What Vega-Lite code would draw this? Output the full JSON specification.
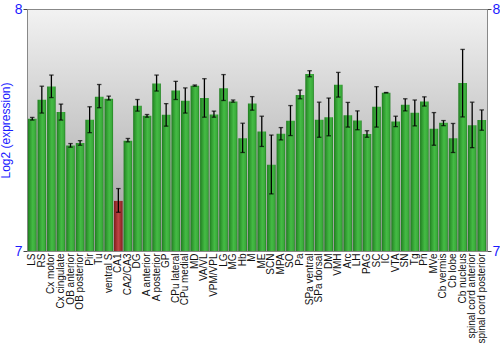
{
  "$schema": "https://vega.github.io/schema/vega-lite/v6.json",
  "width": 460,
  "height": 242,
  "autosize": {"type": "none"},
  "padding": {"left": 27, "top": 9, "right": 13, "bottom": 99},
  "config": {
    "font": "Liberation Sans",
    "view": {
      "stroke": "#888888",
      "strokeWidth": 1,
      "fill": {"gradient": "linear", "x1": 0, "y1": 0, "x2": 0, "y2": 1,
        "stops": [{"offset": 0, "color": "#f2f2f2"}, {"offset": 0.5, "color": "#c8c8c8"}, {"offset": 1, "color": "#9c9c9c"}]}
    }
  },
  "data": {"values": [
    {"region": "LS", "v": 7.546, "lo": 7.541, "hi": 7.552},
    {"region": "RS", "v": 7.625, "lo": 7.570, "hi": 7.681},
    {"region": "Cx motor", "v": 7.680, "lo": 7.634, "hi": 7.727},
    {"region": "Cx cingulate", "v": 7.574, "lo": 7.541, "hi": 7.607},
    {"region": "OB anterior", "v": 7.436, "lo": 7.429, "hi": 7.444},
    {"region": "OB posterior", "v": 7.446, "lo": 7.437, "hi": 7.456},
    {"region": "Pir", "v": 7.542, "lo": 7.489, "hi": 7.596},
    {"region": "Tu", "v": 7.637, "lo": 7.592, "hi": 7.688},
    {"region": "ventral S", "v": 7.629, "lo": 7.624, "hi": 7.640},
    {"region": "CA1", "v": 7.207, "lo": 7.160, "hi": 7.258},
    {"region": "CA2/CA3", "v": 7.456, "lo": 7.451, "hi": 7.465},
    {"region": "DG", "v": 7.600, "lo": 7.578, "hi": 7.626},
    {"region": "A anterior", "v": 7.559, "lo": 7.553, "hi": 7.564},
    {"region": "A posterior", "v": 7.692, "lo": 7.661, "hi": 7.727},
    {"region": "GP", "v": 7.563, "lo": 7.516, "hi": 7.609},
    {"region": "CPu lateral", "v": 7.663, "lo": 7.626, "hi": 7.701},
    {"region": "CPu medial", "v": 7.621, "lo": 7.570, "hi": 7.674},
    {"region": "MD", "v": 7.683, "lo": 7.681, "hi": 7.686},
    {"region": "VA/VL", "v": 7.632, "lo": 7.553, "hi": 7.712},
    {"region": "VPM/VPL", "v": 7.564, "lo": 7.553, "hi": 7.578},
    {"region": "LG", "v": 7.673, "lo": 7.622, "hi": 7.729},
    {"region": "MG", "v": 7.618, "lo": 7.615, "hi": 7.624},
    {"region": "Hb", "v": 7.466, "lo": 7.407, "hi": 7.528},
    {"region": "M", "v": 7.609, "lo": 7.582, "hi": 7.638},
    {"region": "ME", "v": 7.494, "lo": 7.432, "hi": 7.557},
    {"region": "SCN", "v": 7.356, "lo": 7.236, "hi": 7.479},
    {"region": "MPA", "v": 7.484, "lo": 7.459, "hi": 7.510},
    {"region": "SO", "v": 7.538, "lo": 7.477, "hi": 7.601},
    {"region": "Pa", "v": 7.645, "lo": 7.629, "hi": 7.665},
    {"region": "SPa ventral", "v": 7.731, "lo": 7.720, "hi": 7.745},
    {"region": "SPa dorsal", "v": 7.542, "lo": 7.470, "hi": 7.615},
    {"region": "DM", "v": 7.553, "lo": 7.476, "hi": 7.632},
    {"region": "VMH", "v": 7.687, "lo": 7.636, "hi": 7.738},
    {"region": "Arc", "v": 7.561, "lo": 7.512, "hi": 7.614},
    {"region": "LH", "v": 7.539, "lo": 7.501, "hi": 7.579},
    {"region": "PAG", "v": 7.483, "lo": 7.470, "hi": 7.497},
    {"region": "SC", "v": 7.596, "lo": 7.512, "hi": 7.679},
    {"region": "IC", "v": 7.654, "lo": 7.653, "hi": 7.655},
    {"region": "VTA", "v": 7.535, "lo": 7.514, "hi": 7.557},
    {"region": "SN", "v": 7.604, "lo": 7.579, "hi": 7.629},
    {"region": "Tg", "v": 7.571, "lo": 7.517, "hi": 7.624},
    {"region": "Pn", "v": 7.618, "lo": 7.599, "hi": 7.637},
    {"region": "MVe", "v": 7.505, "lo": 7.437, "hi": 7.572},
    {"region": "Cb vermis", "v": 7.530, "lo": 7.518, "hi": 7.539},
    {"region": "Cb lobe", "v": 7.466, "lo": 7.407, "hi": 7.527},
    {"region": "Cb nucleus", "v": 7.694, "lo": 7.554, "hi": 7.833},
    {"region": "spinal cord anterior", "v": 7.520, "lo": 7.427, "hi": 7.615},
    {"region": "spinal cord posterior", "v": 7.541, "lo": 7.499, "hi": 7.583}
  ]},
  "encoding": {
    "x": {
      "field": "region", "type": "nominal", "sort": null,
      "scale": {"paddingInner": 0.1, "paddingOuter": 0.1},
      "axis": {"title": null, "labelAngle": -90, "labelFontSize": 10, "labelColor": "#111111",
        "ticks": false, "domain": false, "labelPadding": 2, "labelFont": "Liberation Sans"}
    }
  },
  "layer": [
    {
      "mark": {"type": "bar"},
      "encoding": {
        "y": {"field": "v", "type": "quantitative", "scale": {"domain": [7, 8], "zero": false, "nice": false},
          "axis": {"orient": "left", "values": [7, 8], "format": "d", "title": "Log2 (expression)", "titleColor": "#1a1aff",
            "titleFontSize": 12, "titleFontWeight": "normal", "titleFont": "Liberation Sans", "titlePadding": 2,
            "labelColor": "#1a1aff", "labelFontSize": 14, "labelFont": "Liberation Sans", "grid": false,
            "domainColor": "#888888", "tickColor": "#444444", "tickSize": 4, "labelPadding": 1}},
        "y2": {"datum": 7},
        "color": {
          "condition": {"test": "datum.region === 'CA1'",
            "value": {"gradient": "linear", "x1": 0, "y1": 0, "x2": 1, "y2": 0,
              "stops": [{"offset": 0, "color": "#7d1c1c"}, {"offset": 0.5, "color": "#c04545"}, {"offset": 1, "color": "#852020"}]}},
          "value": {"gradient": "linear", "x1": 0, "y1": 0, "x2": 1, "y2": 0,
            "stops": [{"offset": 0, "color": "#1f7a1f"}, {"offset": 0.2, "color": "#2e982e"}, {"offset": 0.55, "color": "#45bb45"}, {"offset": 0.85, "color": "#3aab3a"}, {"offset": 1, "color": "#217f21"}]}
        }
      }
    },
    {
      "mark": {"type": "rule", "color": "#000000", "strokeWidth": 1.3},
      "encoding": {
        "y": {"field": "lo", "type": "quantitative",
          "axis": {"orient": "right", "values": [7, 8], "format": "d", "title": null,
            "labelColor": "#1a1aff", "labelFontSize": 14, "labelFont": "Liberation Sans", "grid": false,
            "domainColor": "#888888", "tickColor": "#444444", "tickSize": 4, "labelPadding": 1}},
        "y2": {"field": "hi"}
      }
    },
    {
      "mark": {"type": "tick", "color": "#000000", "thickness": 1.3, "size": 4.5},
      "encoding": {"y": {"field": "lo", "type": "quantitative", "axis": null}}
    },
    {
      "mark": {"type": "tick", "color": "#000000", "thickness": 1.3, "size": 4.5},
      "encoding": {"y": {"field": "hi", "type": "quantitative", "axis": null}}
    }
  ],
  "resolve": {"axis": {"y": "independent"}}
}
